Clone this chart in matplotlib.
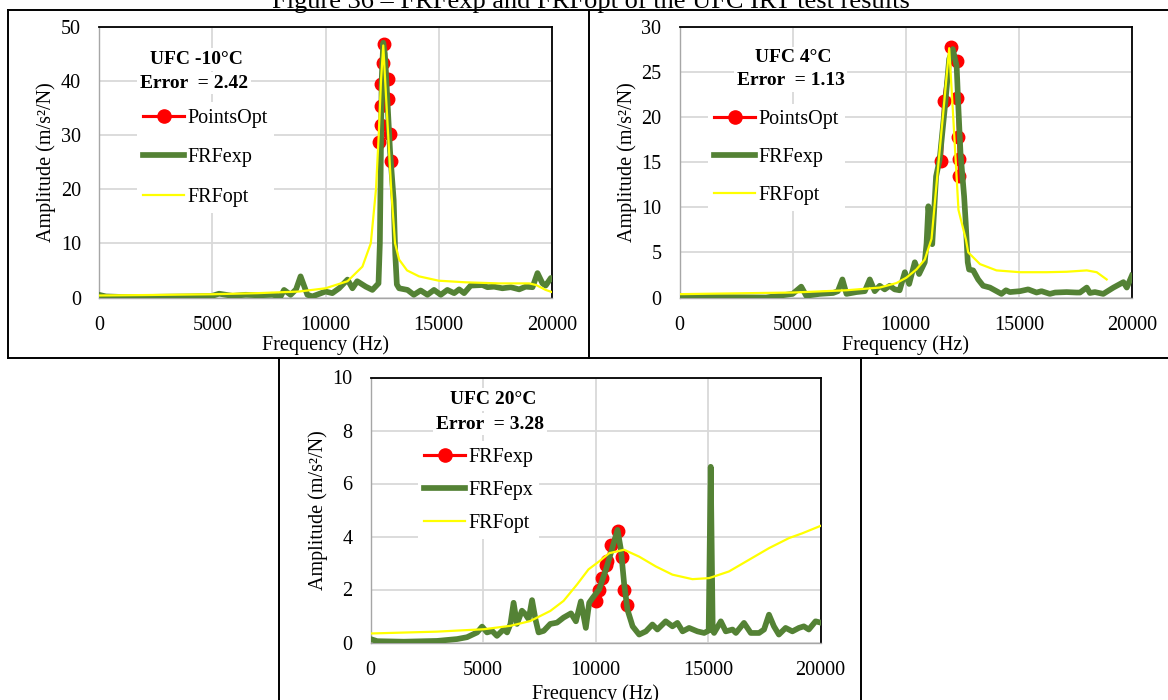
import matplotlib
matplotlib.use('Agg')
import matplotlib.pyplot as plt
from matplotlib.lines import Line2D

plt.rcParams['font.family'] = ['Liberation Serif', 'DejaVu Serif']

W, H = 1168, 700

# ---- UFC -10C ----
f_exp_m10 = [0, 300, 1000, 2000, 3000, 4000, 5000, 5300, 5900, 6480, 7070, 7650, 8020, 8170, 8460, 8700, 8900,
             9200, 9420, 10000, 10300, 10600, 10970, 11190, 11400, 11780, 12070, 12340, 12400, 12440, 12480,
             12550, 12620, 12750, 12850, 13010, 13080, 13150, 13250, 13620, 13900, 14200, 14500, 14790, 15090,
             15380, 15680, 15900, 16120, 16410, 16930, 17150, 17440, 17810, 18180, 18550, 18840, 19140, 19360,
             19580, 19720, 19950, 20000]
a_exp_m10 = [0.5, 0.2, 0.1, 0.1, 0.15, 0.2, 0.3, 0.7, 0.3, 0.5, 0.4, 0.5, 0.2, 1.4, 0.5, 1.5, 3.9,
             0.5, 0.2, 1.1, 0.8, 1.7, 3.3, 1.7, 3.0, 2.0, 1.4, 2.6, 10, 25, 40,
             47, 45, 35, 27, 18, 8, 2.4, 1.7, 1.4, 0.5, 1.3, 0.5, 1.4, 0.5,
             1.4, 0.8, 1.5, 0.8, 2.2, 2.3, 1.9, 2.0, 1.7, 1.9, 1.5, 2.0, 1.9, 4.5,
             2.6, 2.2, 3.6, 3.5]
f_opt_m10 = [0, 2000, 5000, 7000, 8830, 10000, 10970, 11630, 12000, 12230, 12350, 12450, 12550, 12700, 12900,
             13070, 13250, 13600, 14130, 15000, 16200, 17660, 19000, 19300, 19720, 20000]
a_opt_m10 = [0.37, 0.45, 0.6, 0.8, 1.1, 1.7, 3.0, 5.7, 10, 20, 30, 40, 46.5, 35, 20,
             10, 7, 5, 3.9, 3.1, 2.8, 2.6, 2.6, 2.3, 1.4, 1.0]
f_pts_m10 = [12380, 12450, 12450, 12460, 12540, 12580, 12740, 12740, 12830, 12880]
a_pts_m10 = [28.7, 31.9, 35.4, 39.3, 43.3, 46.8, 40.3, 36.7, 30.1, 25.2]

# ---- UFC 4C ----
f_exp_4 = [0, 500, 2000, 3830, 5000, 5380, 5600, 6200, 6790, 7000, 7200, 7380, 7820, 8190, 8410, 8630, 8850,
           9070, 9290, 9510, 9730, 9960, 10150, 10400, 10590, 10840, 10920, 11000, 11080, 11170, 11340, 11500,
           11750, 11920, 12080, 12250, 12330, 12420, 12580, 12650, 12740, 12800, 12980, 13200, 13420, 13720,
           14230, 14430, 14600, 15050, 15410, 15780, 16000, 16370, 16600, 17110, 17550, 17700, 18000, 18140,
           18360, 18730, 19180, 19620, 19770, 19990]
a_exp_4 = [0.2, 0.1, 0.05, 0.0, 0.4, 1.2, 0.2, 0.4, 0.5, 0.7, 2.0, 0.4, 0.6, 0.7, 2.0, 0.7, 1.3,
           0.9, 1.3, 0.9, 0.8, 2.8, 1.5, 3.9, 2.6, 3.9, 6.0, 10.1, 8.0, 5.9, 13.4, 15.3,
           21.6, 26.4, 27.5, 25.6, 20.8, 16.0, 11.2, 8.3, 3.9, 3.1, 3.0, 2.0, 1.3, 1.1,
           0.4, 0.8, 0.6, 0.7, 0.9, 0.55, 0.7, 0.4, 0.55, 0.6, 0.55, 0.55, 1.1, 0.5,
           0.6, 0.4, 1.1, 1.7, 1.1, 2.4]
f_opt_4 = [0, 5000, 7380, 8850, 9590, 10030, 10470, 10840, 11140, 11420, 11670, 11920, 12080, 12330, 12660,
           12760, 13280, 14010, 15050, 16230, 17110, 18000, 18440, 18880]
a_opt_4 = [0.37, 0.55, 0.8, 1.1, 1.6, 2.2, 3.1, 4.2, 6.5, 14.2, 20.8, 27.6, 20.8, 9.7, 6.4,
           5.0, 3.7, 3.0, 2.8, 2.8, 2.85, 3.0, 2.8, 2.0]
f_pts_4 = [11580, 11670, 12000, 12250, 12280, 12330, 12360, 12360]
a_pts_4 = [15.1, 21.7, 27.7, 26.2, 22.1, 17.8, 15.3, 13.4]

# ---- UFC 20C ----
f_exp_20 = [0, 300, 1480, 2960, 3850, 4290, 4740, 4960, 5180, 5400, 5620, 5920, 6070, 6220, 6360, 6510, 6730,
            6880, 7030, 7180, 7330, 7470, 7700, 7990, 8290, 8580, 8910, 9130, 9350, 9570, 9720, 9870, 10160,
            10460, 10680, 10980, 11130, 11270, 11420, 11650, 11940, 12240, 12530, 12750, 13120, 13420, 13640,
            13870, 14160, 14530, 14830, 15030, 15120, 15210, 15270, 15570, 15790, 16090, 16240, 16600, 16900,
            17270, 17490, 17710, 17930, 18150, 18450, 18750, 19040, 19260, 19480, 19780, 20000]
a_exp_20 = [0.13, 0.05, 0.03, 0.06, 0.13, 0.2, 0.38, 0.6, 0.38, 0.44, 0.25, 0.5, 0.38, 0.7, 1.5, 0.7, 1.2,
            1.07, 0.88, 1.6, 0.88, 0.38, 0.44, 0.7, 0.75, 0.94, 1.1, 0.8, 1.55, 0.55, 1.5, 1.68, 2.0,
            2.74, 3.37, 4.25, 3.5, 2.24, 1.24, 0.61, 0.3, 0.42, 0.68, 0.49, 0.8, 0.61, 0.74,
            0.42, 0.55, 0.42, 0.36, 0.45, 6.63, 0.45, 0.36, 0.8, 0.42, 0.49, 0.36, 0.74, 0.36,
            0.36, 0.49, 1.05, 0.61, 0.3, 0.55, 0.42, 0.55, 0.61, 0.49, 0.8, 0.75]
f_opt_20 = [0, 2960, 5030, 6220, 7100, 7990, 8580, 9180, 9690, 10160, 10610, 11270, 11940, 12680, 13420,
            14310, 15050, 15930, 16820, 17710, 18600, 19190, 20000]
a_opt_20 = [0.34, 0.41, 0.5, 0.63, 0.81, 1.19, 1.57, 2.19, 2.76, 3.06, 3.37, 3.5, 3.24, 2.87, 2.56,
            2.39, 2.43, 2.68, 3.12, 3.56, 3.94, 4.12, 4.4]
f_pts_20 = [10020, 10160, 10310, 10460, 10530, 10680, 10980, 11170, 11270, 11380]
a_pts_20 = [1.55, 2.0, 2.43, 2.93, 3.06, 3.68, 4.21, 3.24, 2.0, 1.43]

red = '#ff0000'
green = '#548235'
yellow = '#ffff00'
fs = 14.5
green_lw = 4.1


def fx(x):
    return x / W


def fy(y):
    return 1 - y / H


def panel(rect, ymax, ystep, f_pts, a_pts, f_exp, a_exp, f_opt, a_opt, labels, title, err,
          title_xy, err_xy, leg_xy, leg_space, xlab_y):
    x0, y0, x1, y1 = rect
    ax = fig.add_axes([fx(x0), fy(y1), (x1 - x0) / W, (y1 - y0) / H])
    ax.plot(f_pts, a_pts, color=red, lw=2.25, marker='o', ms=9, zorder=2)
    ax.plot(f_exp, a_exp, color=green, lw=green_lw, zorder=3, solid_joinstyle='round')
    ax.plot(f_opt, a_opt, color=yellow, lw=1.6, zorder=4)
    ax.set_xlim(0, 20000)
    ax.set_ylim(0, ymax)
    ax.set_xticks(range(0, 20001, 5000))
    ax.set_yticks([i * ystep for i in range(int(ymax / ystep) + 1)])
    ax.grid(True, color='#d9d9d9', lw=1.3)
    ax.set_axisbelow(True)
    ax.tick_params(length=0, labelsize=fs, pad=13.5)
    ax.tick_params(axis='y', pad=13)
    for s in ['top', 'right']:
        ax.spines[s].set_color('black')
        ax.spines[s].set_linewidth(1.3)
    for s in ['left', 'bottom']:
        ax.spines[s].set_color('#a6a6a6')
        ax.spines[s].set_linewidth(1.0)
    ax.set_xlabel('Frequency (Hz)', fontsize=fs)
    ax.set_ylabel('Amplitude (m/s²/N)', fontsize=fs)
    ax.xaxis.set_label_coords(0.5, xlab_y)
    ax.yaxis.set_label_coords(-0.094, 0.5)

    fig.text(fx(title_xy[0]), fy(title_xy[1]), title, ha='center', va='center', fontsize=14,
             fontweight='bold', bbox=dict(facecolor='white', edgecolor='none', pad=2))
    fig.text(fx(err_xy[0]), fy(err_xy[1]), err, ha='center', va='center', fontsize=14,
             fontweight='bold', bbox=dict(facecolor='white', edgecolor='none', pad=2))

    handles = [Line2D([], [], color=red, lw=2.25, marker='o', ms=9.5),
               Line2D([], [], color=green, lw=green_lw),
               Line2D([], [], color=yellow, lw=1.6)]
    bp = 0.3
    ax.legend(handles, labels, loc='upper left',
              bbox_to_anchor=(fx(leg_xy[0] - bp * fs * 100 / 72), fy(leg_xy[1] - 11.5 - bp * fs * 100 / 72)),
              bbox_transform=fig.transFigure, fontsize=fs, frameon=True, fancybox=False,
              edgecolor='none', facecolor='white', framealpha=1, borderpad=bp, borderaxespad=0,
              handlelength=2.05, handletextpad=0.15, labelspacing=leg_space, numpoints=1)
    return ax


fig = plt.figure(figsize=(W / 100, H / 100), dpi=100)

panel((99, 26.5, 552, 297.5), 50, 10, f_pts_m10, a_pts_m10, f_exp_m10, a_exp_m10, f_opt_m10, a_opt_m10,
      ['PointsOpt', 'FRFexp', 'FRFopt'], 'UFC -10°C', 'Error  = 2.42',
      (196.6, 59.5), (194, 83), (143, 120), 1.02, -0.139)
panel((679.5, 26.5, 1132, 297.5), 30, 5, f_pts_4, a_pts_4, f_exp_4, a_exp_4, f_opt_4, a_opt_4,
      ['PointsOpt', 'FRFexp', 'FRFopt'], 'UFC 4°C', 'Error  = 1.13',
      (793.7, 58), (790.5, 80.5), (714, 121.3), 0.95, -0.139)
panel((370.5, 377.5, 820.5, 642.5), 10, 2, f_pts_20, a_pts_20, f_exp_20, a_exp_20, f_opt_20, a_opt_20,
      ['FRFexp', 'FRFepx', 'FRFopt'], 'UFC 20°C', 'Error  = 3.28',
      (492.9, 399.5), (490, 424), (424, 459), 0.7, -0.158)

# table borders around the three charts
borders = [((8, 10), (1168, 10)), ((8, 10), (8, 358)), ((589, 10), (589, 358)),
           ((8, 358), (1168, 358)), ((279, 358), (279, 700)), ((860.5, 358), (860.5, 700))]
for (xa, ya), (xb, yb) in borders:
    fig.add_artist(Line2D([fx(xa), fx(xb)], [fy(ya), fy(yb)], color='black', lw=1.4,
                          transform=fig.transFigure))

fig.text(fx(591), fy(8), 'Figure 36 – FRFexp and FRFopt of the UFC IRT test results',
         ha='center', va='baseline', fontsize=19)

fig.savefig('out.png', dpi=100)
